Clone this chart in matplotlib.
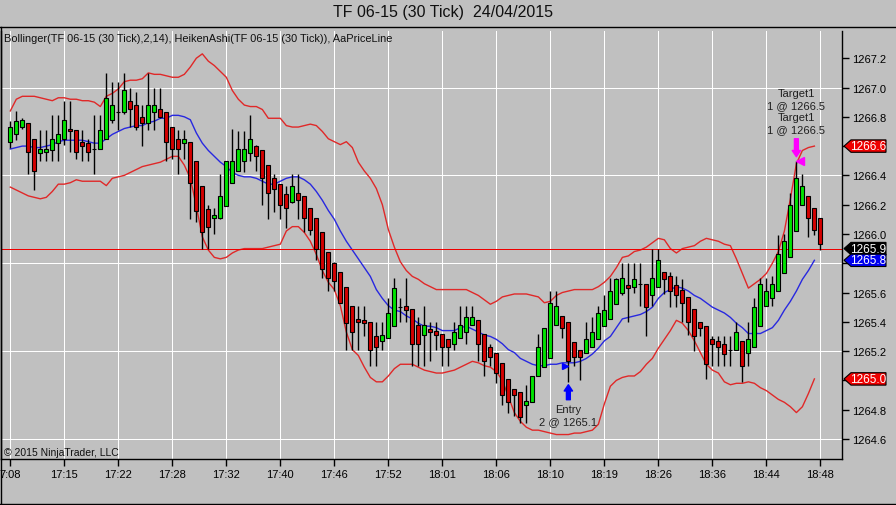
import numpy as np
import matplotlib
matplotlib.use("Agg")
import matplotlib.pyplot as plt
import matplotlib.transforms as mtransforms
from matplotlib.patches import Polygon
from matplotlib.lines import Line2D

plt.rcParams["font.family"] = ["Liberation Sans", "DejaVu Sans"]

# Heiken Ashi candles (one per 30-tick bar)
ha_open = [
    1266.63, 1266.68, 1266.73, 1266.76, 1266.65, 1266.55, 1266.56, 1266.57, 1266.62, 1266.65,
    1266.72, 1266.71, 1266.63, 1266.62, 1266.58, 1266.58, 1266.65, 1266.78, 1266.83, 1266.83,
    1266.91, 1266.88, 1266.80, 1266.76, 1266.83, 1266.85, 1266.83, 1266.73, 1266.65, 1266.62,
    1266.63, 1266.50, 1266.33, 1266.17, 1266.11, 1266.11, 1266.19, 1266.35, 1266.43, 1266.50,
    1266.55, 1266.60, 1266.57, 1266.47, 1266.38, 1266.34, 1266.27, 1266.22, 1266.28, 1266.26,
    1266.18, 1266.11, 1266.01, 1265.88, 1265.80, 1265.74, 1265.64, 1265.51, 1265.42, 1265.41,
    1265.40, 1265.30, 1265.27, 1265.29, 1265.37, 1265.50, 1265.51, 1265.49, 1265.38, 1265.31,
    1265.35, 1265.34, 1265.32, 1265.28, 1265.25, 1265.29, 1265.33, 1265.38, 1265.41, 1265.32,
    1265.23, 1265.19, 1265.12, 1265.01, 1264.94, 1264.92, 1264.83, 1264.85, 1265.03, 1265.09,
    1265.15, 1265.38, 1265.44, 1265.40, 1265.26, 1265.21, 1265.19, 1265.23, 1265.28, 1265.37,
    1265.42, 1265.52, 1265.60, 1265.65, 1265.64, 1265.66, 1265.66, 1265.58, 1265.64, 1265.74,
    1265.71, 1265.65, 1265.62, 1265.57, 1265.49, 1265.40, 1265.37, 1265.28, 1265.27, 1265.25,
    1265.21, 1265.21, 1265.27, 1265.19, 1265.23, 1265.37, 1265.51, 1265.56, 1265.61, 1265.73,
    1265.84, 1266.02, 1266.20, 1266.26, 1266.18, 1266.11,
]
ha_high = [
    1266.77, 1266.84, 1266.79, 1266.76, 1266.65, 1266.71, 1266.71, 1266.81, 1266.81, 1266.91,
    1266.91, 1266.71, 1266.71, 1266.65, 1266.81, 1266.81, 1267.10, 1267.04, 1267.04, 1267.10,
    1267.00, 1266.97, 1266.88, 1267.10, 1267.00, 1267.00, 1266.83, 1266.73, 1266.71, 1266.71,
    1266.63, 1266.50, 1266.33, 1266.20, 1266.18, 1266.41, 1266.50, 1266.72, 1266.70, 1266.70,
    1266.81, 1266.61, 1266.57, 1266.47, 1266.41, 1266.34, 1266.33, 1266.41, 1266.41, 1266.26,
    1266.18, 1266.11, 1266.01, 1265.88, 1265.81, 1265.74, 1265.64, 1265.51, 1265.51, 1265.51,
    1265.40, 1265.40, 1265.40, 1265.56, 1265.70, 1265.56, 1265.70, 1265.49, 1265.43, 1265.51,
    1265.40, 1265.40, 1265.32, 1265.28, 1265.40, 1265.51, 1265.51, 1265.51, 1265.41, 1265.32,
    1265.25, 1265.19, 1265.12, 1265.01, 1264.94, 1264.92, 1264.97, 1265.03, 1265.32, 1265.36,
    1265.61, 1265.61, 1265.44, 1265.40, 1265.26, 1265.21, 1265.40, 1265.43, 1265.51, 1265.58,
    1265.70, 1265.70, 1265.80, 1265.80, 1265.80, 1265.80, 1265.66, 1265.90, 1265.90, 1265.74,
    1265.74, 1265.71, 1265.69, 1265.57, 1265.49, 1265.40, 1265.37, 1265.30, 1265.30, 1265.30,
    1265.30, 1265.40, 1265.27, 1265.40, 1265.56, 1265.70, 1265.70, 1265.71, 1265.99, 1266.00,
    1266.28, 1266.50, 1266.41, 1266.26, 1266.18, 1266.11,
]
ha_low = [
    1266.59, 1266.64, 1266.72, 1266.41, 1266.30, 1266.50, 1266.50, 1266.50, 1266.50, 1266.61,
    1266.56, 1266.51, 1266.50, 1266.50, 1266.41, 1266.58, 1266.65, 1266.76, 1266.71, 1266.82,
    1266.73, 1266.71, 1266.60, 1266.71, 1266.71, 1266.79, 1266.50, 1266.51, 1266.41, 1266.51,
    1266.10, 1266.08, 1265.90, 1265.90, 1266.00, 1266.10, 1266.19, 1266.35, 1266.43, 1266.42,
    1266.50, 1266.43, 1266.20, 1266.10, 1266.15, 1266.10, 1266.04, 1266.21, 1266.10, 1266.01,
    1265.99, 1265.82, 1265.70, 1265.61, 1265.61, 1265.53, 1265.21, 1265.21, 1265.21, 1265.30,
    1265.10, 1265.10, 1265.21, 1265.29, 1265.37, 1265.40, 1265.40, 1265.10, 1265.10, 1265.10,
    1265.13, 1265.21, 1265.10, 1265.10, 1265.21, 1265.29, 1265.25, 1265.38, 1265.13, 1265.03,
    1265.10, 1264.98, 1264.83, 1264.78, 1264.76, 1264.71, 1264.71, 1264.85, 1265.03, 1265.09,
    1265.15, 1265.38, 1265.29, 1264.99, 1265.10, 1265.00, 1265.19, 1265.23, 1265.28, 1265.37,
    1265.42, 1265.52, 1265.58, 1265.40, 1265.60, 1265.51, 1265.30, 1265.51, 1265.64, 1265.59,
    1265.50, 1265.50, 1265.40, 1265.31, 1265.20, 1265.30, 1265.01, 1265.10, 1265.10, 1265.10,
    1265.10, 1265.21, 1264.99, 1265.10, 1265.23, 1265.37, 1265.51, 1265.51, 1265.61, 1265.73,
    1265.84, 1266.02, 1266.20, 1265.98, 1265.99, 1265.89,
]
ha_close = [
    1266.73, 1266.77, 1266.78, 1266.56, 1266.43, 1266.58, 1266.58, 1266.65, 1266.68, 1266.78,
    1266.70, 1266.56, 1266.60, 1266.56, 1266.58, 1266.71, 1266.93, 1266.88, 1266.83, 1266.98,
    1266.85, 1266.73, 1266.76, 1266.88, 1266.88, 1266.80, 1266.63, 1266.58, 1266.58, 1266.65,
    1266.35, 1266.16, 1266.01, 1266.05, 1266.13, 1266.26, 1266.50, 1266.50, 1266.58, 1266.58,
    1266.65, 1266.53, 1266.38, 1266.28, 1266.31, 1266.20, 1266.18, 1266.33, 1266.23, 1266.11,
    1266.03, 1265.90, 1265.76, 1265.70, 1265.68, 1265.53, 1265.39, 1265.33, 1265.40, 1265.39,
    1265.21, 1265.23, 1265.31, 1265.46, 1265.63, 1265.50, 1265.48, 1265.25, 1265.25, 1265.38,
    1265.33, 1265.31, 1265.23, 1265.23, 1265.33, 1265.38, 1265.43, 1265.43, 1265.25, 1265.13,
    1265.16, 1265.05, 1264.90, 1264.85, 1264.90, 1264.75, 1264.86, 1265.03, 1265.23, 1265.36,
    1265.53, 1265.51, 1265.36, 1265.13, 1265.16, 1265.16, 1265.28, 1265.33, 1265.46, 1265.48,
    1265.61, 1265.69, 1265.70, 1265.63, 1265.69, 1265.66, 1265.50, 1265.70, 1265.82, 1265.69,
    1265.61, 1265.58, 1265.53, 1265.40, 1265.30, 1265.36, 1265.11, 1265.25, 1265.23, 1265.18,
    1265.21, 1265.33, 1265.10, 1265.28, 1265.50, 1265.66, 1265.61, 1265.66, 1265.86, 1265.95,
    1266.20, 1266.38, 1266.33, 1266.11, 1266.03, 1265.93,
]

# Bollinger(2,14) -- plotted up to the last closed bar
bb_upper = [
    1266.84, 1266.92, 1266.94, 1266.94, 1266.94, 1266.93, 1266.92, 1266.91, 1266.93, 1266.93,
    1266.92, 1266.92, 1266.91, 1266.91, 1266.90, 1266.87, 1266.94, 1266.96, 1266.99, 1267.04,
    1267.05, 1267.05, 1267.06, 1267.10, 1267.09, 1267.09, 1267.08, 1267.07, 1267.07, 1267.09,
    1267.14, 1267.20, 1267.23, 1267.18, 1267.15, 1267.11, 1267.07, 1266.98, 1266.92, 1266.88,
    1266.87, 1266.87, 1266.85, 1266.79, 1266.79, 1266.79, 1266.74, 1266.73, 1266.73, 1266.74,
    1266.75, 1266.74, 1266.70, 1266.65, 1266.63, 1266.61, 1266.63, 1266.59, 1266.49, 1266.43,
    1266.38, 1266.31, 1266.20, 1266.03, 1265.91, 1265.81, 1265.75, 1265.71, 1265.69, 1265.66,
    1265.64, 1265.62, 1265.62, 1265.62, 1265.62, 1265.62, 1265.62, 1265.60, 1265.58, 1265.55,
    1265.52, 1265.54, 1265.57, 1265.58, 1265.59, 1265.59, 1265.59, 1265.58, 1265.57, 1265.53,
    1265.54, 1265.58, 1265.60, 1265.61, 1265.62, 1265.62, 1265.62, 1265.62, 1265.64, 1265.67,
    1265.71, 1265.77, 1265.84, 1265.85, 1265.88, 1265.89, 1265.91, 1265.94, 1265.97, 1265.96,
    1265.90, 1265.87, 1265.90, 1265.91, 1265.92, 1265.95, 1265.97, 1265.96, 1265.95, 1265.93,
    1265.92, 1265.83, 1265.73, 1265.63, 1265.66, 1265.69, 1265.73, 1265.80, 1265.88, 1266.02,
    1266.24, 1266.48, 1266.57, 1266.59, 1266.60,
]
bb_middle = [
    1266.58, 1266.59, 1266.60, 1266.60, 1266.59, 1266.59, 1266.60, 1266.61, 1266.63, 1266.64,
    1266.64, 1266.64, 1266.64, 1266.63, 1266.62, 1266.62, 1266.65, 1266.68, 1266.70, 1266.72,
    1266.73, 1266.74, 1266.74, 1266.76, 1266.77, 1266.79, 1266.79, 1266.81, 1266.81, 1266.80,
    1266.78, 1266.69, 1266.62, 1266.57, 1266.53, 1266.49, 1266.46, 1266.42, 1266.40, 1266.39,
    1266.39, 1266.38, 1266.36, 1266.34, 1266.34, 1266.36, 1266.38, 1266.39, 1266.39, 1266.37,
    1266.34, 1266.29, 1266.23, 1266.16, 1266.10, 1266.02, 1265.95, 1265.89, 1265.83, 1265.77,
    1265.71, 1265.62, 1265.56, 1265.51, 1265.48, 1265.47, 1265.44, 1265.42, 1265.39, 1265.37,
    1265.37, 1265.36, 1265.34, 1265.34, 1265.34, 1265.36, 1265.37, 1265.35, 1265.33, 1265.31,
    1265.30, 1265.28, 1265.25, 1265.21, 1265.19, 1265.15, 1265.13, 1265.11, 1265.10, 1265.10,
    1265.11, 1265.11, 1265.12, 1265.12, 1265.12, 1265.13, 1265.15, 1265.18, 1265.22, 1265.27,
    1265.30, 1265.36, 1265.42, 1265.43, 1265.44, 1265.45, 1265.47, 1265.50, 1265.56, 1265.60,
    1265.62, 1265.64, 1265.63, 1265.61, 1265.58, 1265.56, 1265.53, 1265.50, 1265.48, 1265.46,
    1265.43, 1265.39, 1265.36, 1265.32, 1265.32, 1265.32, 1265.34, 1265.36, 1265.41, 1265.48,
    1265.54, 1265.61, 1265.69, 1265.75, 1265.82,
]
bb_lower = [
    1266.32, 1266.30, 1266.28, 1266.26, 1266.25, 1266.24, 1266.25, 1266.29, 1266.34, 1266.34,
    1266.35, 1266.37, 1266.36, 1266.36, 1266.36, 1266.36, 1266.33, 1266.38, 1266.39, 1266.40,
    1266.42, 1266.44, 1266.46, 1266.47, 1266.48, 1266.49, 1266.51, 1266.53, 1266.53, 1266.47,
    1266.38, 1266.19, 1265.98, 1265.89, 1265.84, 1265.83, 1265.84, 1265.87, 1265.89, 1265.90,
    1265.90, 1265.90, 1265.90, 1265.91, 1265.92, 1265.93, 1266.02, 1266.05, 1266.05, 1266.01,
    1265.95, 1265.86, 1265.75, 1265.67, 1265.62, 1265.51, 1265.33, 1265.21, 1265.17, 1265.09,
    1265.02, 1264.99, 1264.99, 1265.03, 1265.08, 1265.11, 1265.11, 1265.11, 1265.09, 1265.07,
    1265.06, 1265.05, 1265.05, 1265.06, 1265.07, 1265.09, 1265.11, 1265.13, 1265.12, 1265.10,
    1265.09, 1265.06, 1265.00, 1264.89, 1264.78, 1264.72, 1264.68, 1264.66, 1264.66, 1264.65,
    1264.64, 1264.63, 1264.63, 1264.63, 1264.64, 1264.64, 1264.65, 1264.66, 1264.70, 1264.84,
    1264.96, 1265.00, 1265.02, 1265.03, 1265.03, 1265.06, 1265.11, 1265.15, 1265.22, 1265.28,
    1265.34, 1265.41, 1265.39, 1265.34, 1265.27, 1265.19, 1265.11, 1265.07, 1265.05, 1264.99,
    1264.97, 1264.98, 1264.98, 1264.99, 1264.98, 1264.95, 1264.93, 1264.90, 1264.87, 1264.85,
    1264.82, 1264.78, 1264.82, 1264.91, 1265.01,
]

last_price = 1265.9

time_ticks = [0, 9, 18, 27, 36, 45, 54, 63, 72, 81, 90, 99, 108, 117, 126, 135]
# first label is cut by the chart edge in the original
time_labels = ["7:08", "17:15", "17:22", "17:28", "17:32", "17:40", "17:46", "17:52",
               "18:01", "18:06", "18:10", "18:19", "18:26", "18:36", "18:44", "18:48"]
price_ticks = [1264.6, 1264.8, 1265.0, 1265.2, 1265.4, 1265.6, 1265.8,
               1266.0, 1266.2, 1266.4, 1266.6, 1266.8, 1267.0, 1267.2]

entry_bar, entry_price = 93, 1265.1
target_bar, target_price = 131, 1266.5

BG = "#C0C0C0"
GREEN = "#00E400"
RED = "#D40000"

fig = plt.figure(figsize=(8.96, 5.06), dpi=100, facecolor=BG)
ax = fig.add_axes([1 / 896, 46 / 506, 841 / 896, 428 / 506], facecolor=BG)

n = len(ha_open)
idx = np.arange(n)
o = np.array(ha_open)
c = np.array(ha_close)
up = c >= o

# grid (1 px lines)
ax.set_xlim(-1.55, 138.6)
ax.set_ylim(1264.463, 1267.386)
for t in time_ticks:
    ax.axvline(t, color="white", lw=0.72, zorder=0, antialiased=False)
for g in [1264.6, 1265.2, 1265.8, 1266.4, 1267.0]:
    ax.axhline(g, color="white", lw=0.72, zorder=0, antialiased=False)

# Bollinger bands
bidx = np.arange(len(bb_upper))
ax.plot(bidx, bb_upper, color="#E02828", lw=1, zorder=2)
ax.plot(bidx, bb_lower, color="#E02828", lw=1, zorder=2)
ax.plot(bidx, bb_middle, color="#2828E0", lw=1, zorder=2)

# price line
ax.axhline(last_price, color="#EE0000", lw=0.72, zorder=2, antialiased=False)

# candles
ax.vlines(idx, ha_low, ha_high, color="black", lw=1, zorder=3)
body_lo = np.minimum(o, c)
body_h = np.abs(c - o)
ax.bar(idx, body_h, bottom=body_lo, width=0.7,
       color=np.where(up, GREEN, RED), edgecolor="black", linewidth=0.8, zorder=4)

# value tags on the price axis (they hide the tick labels beneath them)
tags = [(bb_upper[-1], "#EE0000"), (last_price, "black"),
        (bb_middle[-1], "#0000EE"), (bb_lower[-1], "#EE0000")]
tag_vals = [round(v, 1) for v, _ in tags]

ax.yaxis.tick_right()
ax.set_yticks(price_ticks)
ax.set_yticklabels(["" if round(v, 1) in tag_vals else f"{v:.1f}" for v in price_ticks])
ax.set_xticks(time_ticks)
ax.set_xticklabels(time_labels)
ax.tick_params(axis="both", labelsize=8, colors="black", length=5, width=1, direction="out")
ax.tick_params(axis="y", pad=2)
ax.tick_params(axis="x", pad=2)
ax.spines["top"].set_visible(False)
for s in ["left", "right", "bottom"]:
    ax.spines[s].set_color("black")
    ax.spines[s].set_linewidth(1)

# panel frame
for xs, ys in [([0, 1], [1 - 27.5 / 506] * 2), ([0.5 / 896] * 2, [0, 1 - 27.5 / 506]),
               ([0, 1], [1.5 / 506] * 2)]:
    fig.add_artist(Line2D(xs, ys, color="black", lw=1, transform=fig.transFigure))

# entry marker
ax.plot(entry_bar - 0.55, entry_price, marker=">", color="#0000FF", ms=5, zorder=6)
head = mtransforms.offset_copy(ax.transData, fig=fig, x=0, y=-19, units="dots")
tail = mtransforms.offset_copy(ax.transData, fig=fig, x=0, y=-34, units="dots")
ax.annotate("", xy=(entry_bar, entry_price), xycoords=head,
            xytext=(entry_bar, entry_price), textcoords=tail,
            arrowprops=dict(arrowstyle="simple,head_length=0.45,head_width=0.6,tail_width=0.28",
                            fc="#0000FF", ec="#0000FF", shrinkA=0, shrinkB=0, mutation_scale=10))
ax.annotate("Entry", xy=(entry_bar, entry_price), xytext=(0, -43), textcoords="offset pixels",
            ha="center", va="center", fontsize=8, color="#202020")
ax.annotate(f"2 @ {entry_price:.1f}", xy=(entry_bar, entry_price), xytext=(0, -55),
            textcoords="offset pixels", ha="center", va="center", fontsize=8, color="#202020")

# target marker
ax.plot(target_bar + 0.55, target_price, marker="<", color="#FF00FF", ms=6, zorder=6)
head = mtransforms.offset_copy(ax.transData, fig=fig, x=0, y=4, units="dots")
tail = mtransforms.offset_copy(ax.transData, fig=fig, x=0, y=22, units="dots")
ax.annotate("", xy=(target_bar, target_price), xycoords=head,
            xytext=(target_bar, target_price), textcoords=tail,
            arrowprops=dict(arrowstyle="simple,head_length=0.45,head_width=0.6,tail_width=0.28",
                            fc="#FF00FF", ec="#FF00FF", shrinkA=0, shrinkB=0, mutation_scale=10))
for dy, txt in [(68, "Target1"), (56, f"1 @ {target_price:.1f}"),
                (44, "Target1"), (32, f"1 @ {target_price:.1f}")]:
    ax.annotate(txt, xy=(target_bar, target_price), xytext=(0, dy), textcoords="offset pixels",
                ha="center", va="center", fontsize=8, color="#202020")

tag_tr = mtransforms.blended_transform_factory(fig.transFigure, ax.transData)


def draw_tag(value, color):
    h = 6.2 / 146.4
    x0, x1, x2 = 844 / 896, 851 / 896, 886 / 896
    poly = Polygon([(x0, value), (x1, value + h), (x2, value + h), (x2, value - h), (x1, value - h)],
                   closed=True, fc=color, ec="black", lw=0.8, transform=tag_tr, clip_on=False, zorder=10)
    fig.add_artist(poly)
    fig.text((x1 + x2) / 2, value, f"{value:.1f}", transform=tag_tr, ha="center", va="center",
             fontsize=8.5, color="white", zorder=11)


for v, col in tags:
    draw_tag(v, col)

# texts
fig.text(443 / 896, 1 - 13 / 506, "TF 06-15 (30 Tick)  24/04/2015", ha="center", va="center",
         fontsize=11.5, color="#101010")
ax.text(3 / 841, 1 - 7 / 428,
        "Bollinger(TF 06-15 (30 Tick),2,14), HeikenAshi(TF 06-15 (30 Tick)), AaPriceLine",
        transform=ax.transAxes, ha="left", va="center", fontsize=7.9, color="#101010")
ax.text(3 / 841, 7 / 428, "\u00a9 2015 NinjaTrader, LLC", transform=ax.transAxes,
        ha="left", va="center", fontsize=7.5, color="#101010")

fig.savefig("out.png", dpi=100, facecolor=BG)
